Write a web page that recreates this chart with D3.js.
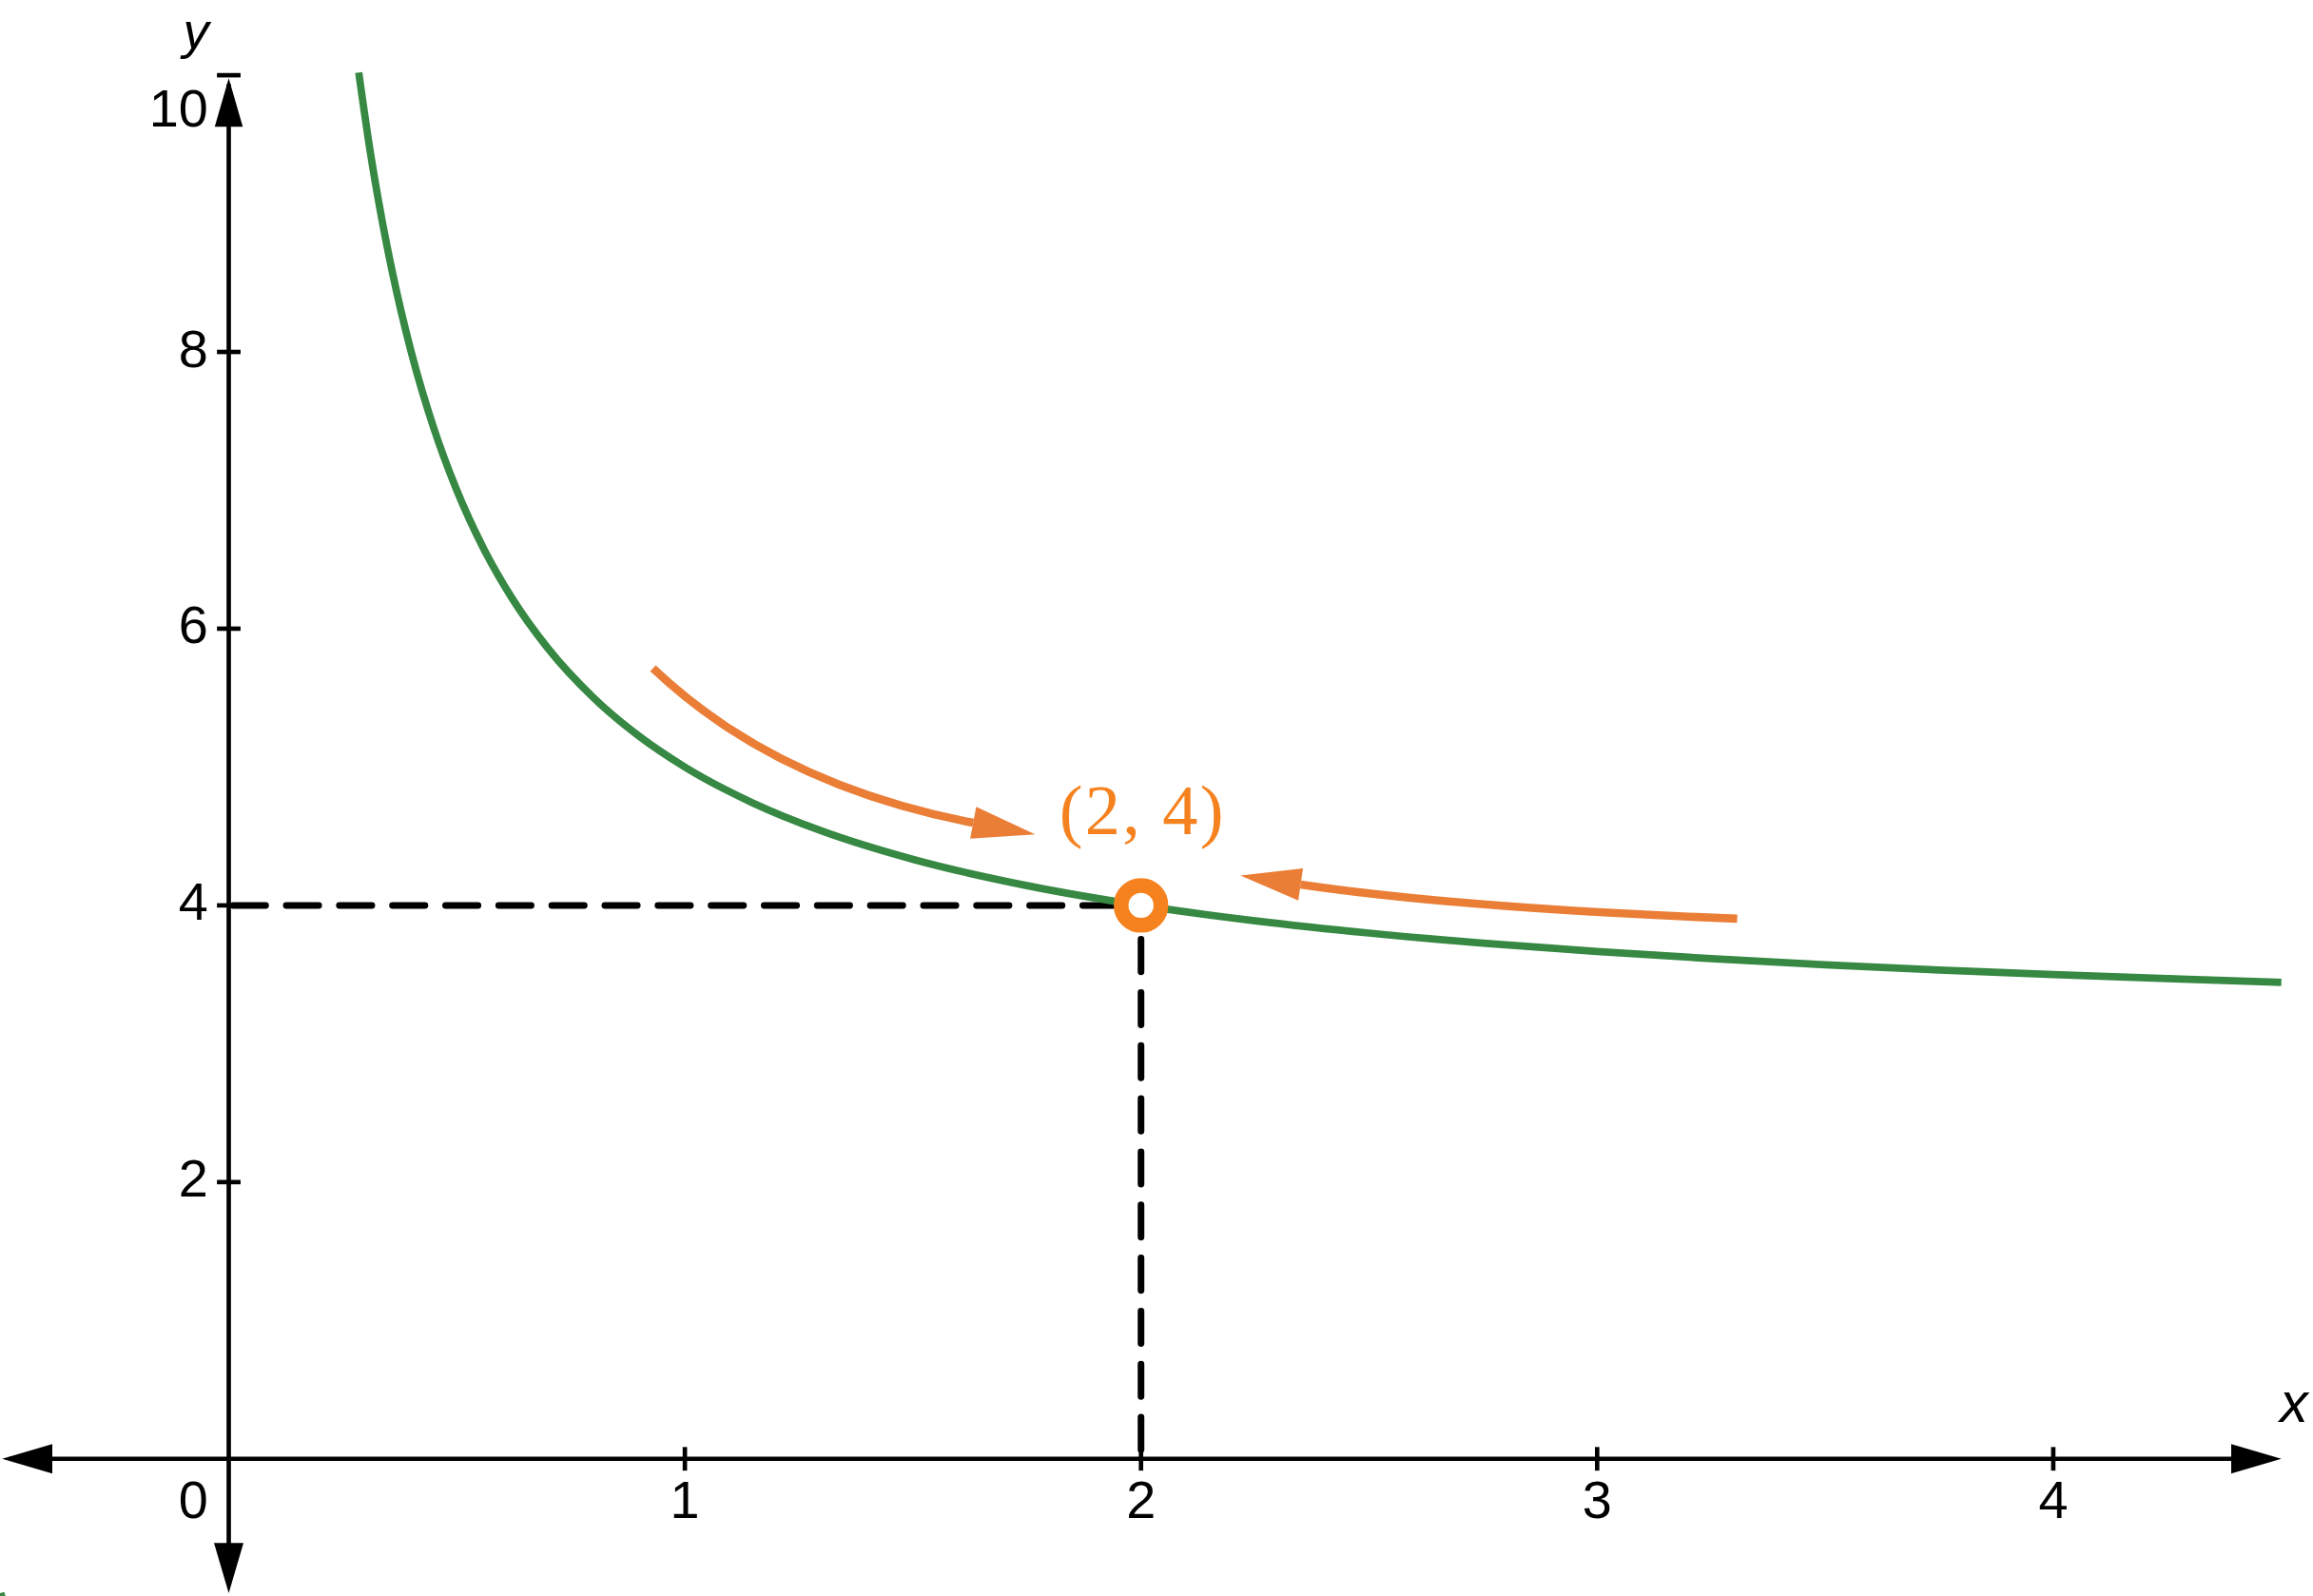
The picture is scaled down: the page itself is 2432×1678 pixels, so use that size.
<!DOCTYPE html>
<html>
<head>
<meta charset="utf-8">
<script src="https://cdn.jsdelivr.net/npm/d3@7"></script>
<style>
body { margin: 0; background: #fff; }
</style>
</head>
<body>
<div id="chart"></div>
<script>
// values
var curveX = [0.285, 0.31, 0.33, 0.36, 0.40, 0.45, 0.50, 0.56, 0.62, 0.70, 0.80, 0.90, 1.00, 1.15, 1.30, 1.50, 1.75, 2.00, 2.25, 2.50, 2.75, 3.00, 3.25, 3.50, 3.75, 4.00, 4.25, 4.50];
var curveY = [10.02, 9.452, 9.061, 8.556, 8.000, 7.444, 7.000, 6.571, 6.226, 5.857, 5.500, 5.222, 5.000, 4.739, 4.538, 4.333, 4.143, 4.000, 3.889, 3.800, 3.727, 3.667, 3.615, 3.571, 3.533, 3.500, 3.471, 3.444];
var leftBranchX = [-0.50, -0.485];
var leftBranchY = [-0.97, -1.12];

var xTicks = [1, 2, 3, 4];
var xTickLabels = ["1", "2", "3", "4"];
var yTicks = [2, 4, 6, 8, 10];
var yTickLabels = ["2", "4", "6", "8", "10"];
var originLabel = "0";
var xExtent = [-0.5, 4.5];
var yExtent = [-0.97, 10];

var hole = [2, 4];
var holeLabel = "(2, 4)";

// arrows: start, bend (control point), base of head, tip
var arrowAX = [0.930, 1.198, 1.632, 1.768];
var arrowAY = [5.713, 4.874, 4.597, 4.513];
var arrowBX = [3.307, 2.704, 2.350, 2.218];
var arrowBY = [3.904, 3.980, 4.151, 4.215];

var W = 1568, H = 1082;
var green = "#368843", orange = "#f5821f", arrowOrange = "#ea7e37";

var svg = d3.select("#chart").append("svg")
    .attr("width", 2432)
    .attr("height", 1678)
    .attr("viewBox", "0 0 " + W + " " + H)
    .style("display", "block");

var x = d3.scaleLinear().domain([0, 4]).range([155, 1392]);
var y = d3.scaleLinear().domain([0, 10]).range([989, 51]);

function zip(xs, ys) {
    return xs.map(function (v, i) { return [v, ys[i]]; });
}

function arrowHead(g, tip, base, half, color) {
    var dx = tip[0] - base[0], dy = tip[1] - base[1];
    var len = Math.sqrt(dx * dx + dy * dy);
    var px = -dy / len * half, py = dx / len * half;
    g.append("polygon")
        .attr("points", [tip, [base[0] + px, base[1] + py], [base[0] - px, base[1] - py]]
            .map(function (p) { return p.join(","); }).join(" "))
        .attr("fill", color);
}

// axes
var axis = svg.append("g");
axis.append("line")
    .attr("x1", x(xExtent[0]) + 6).attr("x2", x(xExtent[1]) - 6)
    .attr("y1", y(0)).attr("y2", y(0))
    .attr("stroke", "#000").attr("stroke-width", 3);
axis.append("line")
    .attr("x1", x(0)).attr("x2", x(0))
    .attr("y1", y(yExtent[1]) + 6).attr("y2", y(yExtent[0]) - 6)
    .attr("stroke", "#000").attr("stroke-width", 3);

arrowHead(axis, [x(xExtent[0]) + 1, y(0)], [x(xExtent[0]) + 35, y(0)], 10, "#000");
arrowHead(axis, [x(xExtent[1]), y(0)], [x(xExtent[1]) - 34, y(0)], 10, "#000");
arrowHead(axis, [x(0), y(yExtent[1]) + 2], [x(0), y(yExtent[1]) + 35], 9.5, "#000");
arrowHead(axis, [x(0), y(yExtent[0])], [x(0), y(yExtent[0]) - 34], 10, "#000");

axis.selectAll(".xt").data(xTicks).enter().append("line")
    .attr("x1", function (d) { return x(d); }).attr("x2", function (d) { return x(d); })
    .attr("y1", y(0) - 8).attr("y2", y(0) + 8)
    .attr("stroke", "#000").attr("stroke-width", 3);
axis.selectAll(".yt").data(yTicks).enter().append("line")
    .attr("y1", function (d) { return y(d); }).attr("y2", function (d) { return y(d); })
    .attr("x1", x(0) - 8).attr("x2", x(0) + 8)
    .attr("stroke", "#000").attr("stroke-width", 3);

var labels = svg.append("g")
    .style("font-family", "'Liberation Sans', Arial, sans-serif")
    .style("font-size", "36px")
    .attr("fill", "#000");
labels.selectAll(".xl").data(xTicks).enter().append("text")
    .attr("x", function (d) { return x(d); })
    .attr("y", y(0) + 40)
    .attr("text-anchor", "middle")
    .text(function (d, i) { return xTickLabels[i]; });
labels.append("text")
    .attr("x", x(0) - 14).attr("y", y(0) + 40)
    .attr("text-anchor", "end")
    .text(originLabel);
labels.selectAll(".yl").data(yTicks).enter().append("text")
    .attr("x", x(0) - 14)
    .attr("y", function (d) { return Math.max(y(d) + 10, 86); })
    .attr("text-anchor", "end")
    .text(function (d, i) { return yTickLabels[i]; });

labels.append("text")
    .attr("x", x(0) - 31).attr("y", 33)
    .style("font-style", "italic")
    .style("font-size", "35px")
    .text("y");
labels.append("text")
    .attr("x", x(xExtent[1]) - 1).attr("y", y(0) - 25)
    .style("font-style", "italic")
    .style("font-size", "38px")
    .text("x");

// dashed guides
var guides = svg.append("g")
    .attr("stroke", "#000").attr("stroke-width", 4.5)
    .attr("stroke-dasharray", "22 14").attr("stroke-linecap", "round");
guides.append("line")
    .attr("x1", x(0) + 3).attr("x2", x(hole[0]))
    .attr("y1", y(hole[1])).attr("y2", y(hole[1]));
guides.append("line")
    .attr("x1", x(hole[0])).attr("x2", x(hole[0]))
    .attr("y1", y(hole[1]) + 23).attr("y2", y(0));

// curve
var line = d3.line()
    .x(function (d) { return x(d[0]); })
    .y(function (d) { return y(d[1]); })
    .curve(d3.curveMonotoneX);

svg.append("path")
    .datum(zip(curveX, curveY))
    .attr("d", line)
    .attr("fill", "none").attr("stroke", green).attr("stroke-width", 5);
svg.append("path")
    .datum(zip(leftBranchX, leftBranchY))
    .attr("d", line)
    .attr("fill", "none").attr("stroke", green).attr("stroke-width", 5);

// annotation arrows (quadratic bend through d3.path)
[zip(arrowAX, arrowAY), zip(arrowBX, arrowBY)].forEach(function (pts) {
    var g = svg.append("g");
    var p = pts.map(function (d) { return [x(d[0]), y(d[1])]; });
    var path = d3.path();
    path.moveTo(p[0][0], p[0][1]);
    path.quadraticCurveTo(p[1][0], p[1][1], p[2][0], p[2][1]);
    g.append("path")
        .attr("d", path.toString())
        .attr("fill", "none").attr("stroke", arrowOrange).attr("stroke-width", 5.5);
    arrowHead(g, p[3], p[2], 11, arrowOrange);
});

// hole
svg.append("circle")
    .attr("cx", x(hole[0])).attr("cy", y(hole[1]))
    .attr("r", 13.5)
    .attr("fill", "#fff").attr("stroke", orange).attr("stroke-width", 10);

svg.append("text")
    .attr("x", x(hole[0]) + 1).attr("y", y(hole[1]) - 48)
    .attr("text-anchor", "middle")
    .style("font-family", "'Liberation Serif', 'Times New Roman', serif")
    .style("font-size", "48px")
    .style("letter-spacing", "1.5px")
    .attr("fill", orange)
    .text(holeLabel);
</script>
</body>
</html>
